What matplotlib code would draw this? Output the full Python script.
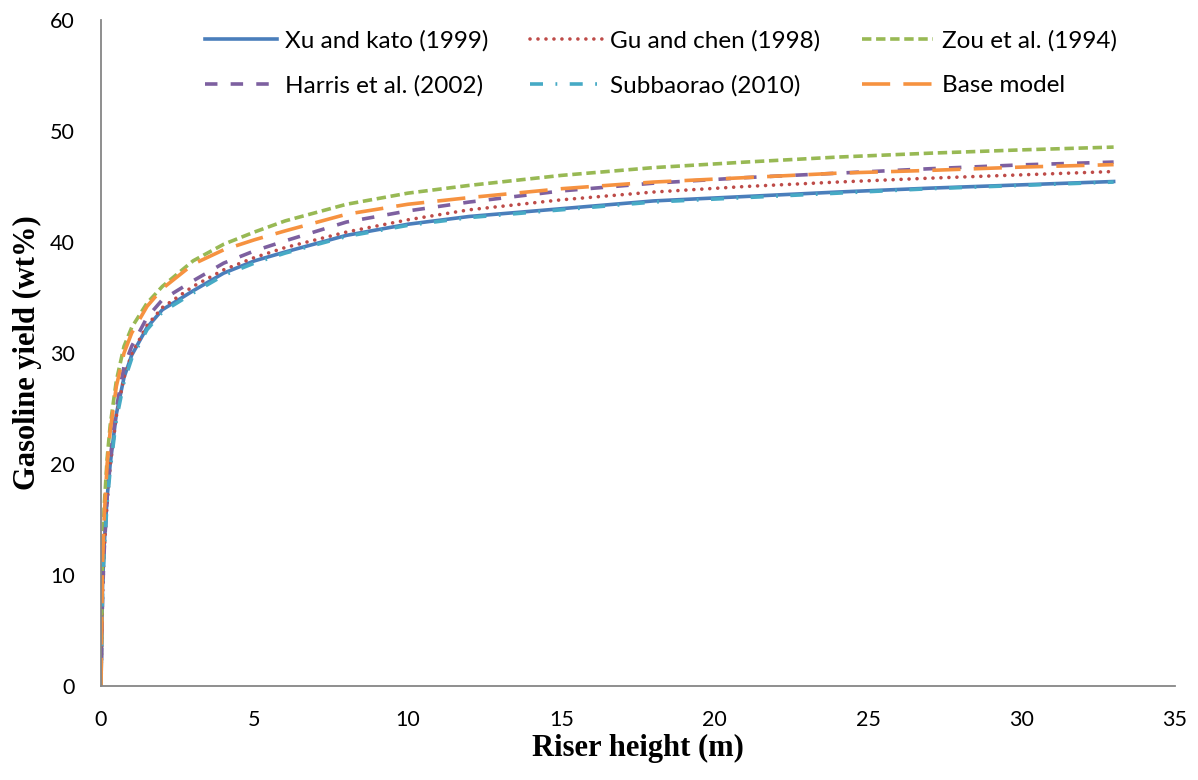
import numpy as np
import matplotlib
matplotlib.use("Agg")
import matplotlib.pyplot as plt

# riser height (m) at which the curves were read
height = [0, 0.05, 0.1, 0.2, 0.3, 0.5, 0.75, 1, 1.5, 2, 3, 4, 5, 6, 8, 10,
          12, 15, 18, 21, 24, 27, 30, 33]

# gasoline yield (wt%) for each kinetic model
xu_kato = [0, 9, 12.5, 17, 20, 24.5, 27.8, 29.8, 32.3, 33.9, 35.6, 37.2, 38.3,
           39.1, 40.6, 41.6, 42.3, 43.0, 43.7, 44.1, 44.5, 44.85, 45.15, 45.45]
gu_chen = [0, 8, 12, 16.5, 19.8, 24.3, 27.8, 29.9, 32.5, 34.1, 36.0, 37.5, 38.6,
           39.5, 40.9, 42.0, 42.9, 43.8, 44.5, 45.0, 45.4, 45.75, 46.05, 46.35]
zou = [0, 12, 16, 20.5, 23.5, 27.5, 30.6, 32.3, 34.5, 36.0, 38.3, 39.8, 40.9,
       41.9, 43.4, 44.4, 45.1, 46.0, 46.7, 47.2, 47.65, 48.0, 48.3, 48.55]
harris = [0, 8, 12, 17, 20.5, 25, 28.8, 30.6, 33.2, 34.8, 36.5, 38.1, 39.2,
          40.1, 41.8, 42.8, 43.6, 44.6, 45.3, 45.8, 46.2, 46.6, 46.95, 47.2]
subbaorao = [0, 8.5, 12, 16.5, 19.5, 24.0, 27.4, 29.5, 32.1, 33.7, 35.4, 37.0,
             38.1, 39.0, 40.5, 41.5, 42.2, 42.9, 43.6, 44.0, 44.4, 44.8, 45.1, 45.4]
base_model = [0, 11, 15, 20, 23, 27, 30, 31.8, 34.2, 35.8, 38.0, 39.3, 40.2,
              41.0, 42.5, 43.4, 44.0, 44.8, 45.4, 45.8, 46.2, 46.45, 46.75, 46.97]

fig = plt.figure(figsize=(11.98, 7.8), dpi=100)
ax = fig.add_axes([101 / 1198, 1 - 686 / 780, 1074 / 1198, 666 / 780])

lw = 2.6
l_xu, = ax.plot(height, xu_kato, color="#4A7EBB", lw=lw, label="Xu and kato (1999)")
l_gu, = ax.plot(height, gu_chen, color="#BE4B48", lw=lw, dash_capstyle="round",
                linestyle=(0, (0.01, 2.2)), label="Gu and chen (1998)")
l_zou, = ax.plot(height, zou, color="#98B954", lw=lw, linestyle=(0, (2.6, 1.3)),
                 label="Zou et al. (1994)")
l_har, = ax.plot(height, harris, color="#7D60A0", lw=lw, linestyle=(0, (3.45, 3.65)),
                 label="Harris et al. (2002)")
l_sub, = ax.plot(height, subbaorao, color="#46AAC5", lw=lw,
                 linestyle=(0, (3.6, 3.45, 0.5, 3.45)), label="Subbaorao (2010)")
l_base, = ax.plot(height, base_model, color="#F69240", lw=lw,
                  linestyle=(0, (7.8, 3.65)), label="Base model")

ax.set_xlim(0, 35)
ax.set_ylim(0, 60)
ax.set_xticks(np.arange(0, 36, 5))
ax.set_yticks(np.arange(0, 61, 10))
for s in ["top", "right"]:
    ax.spines[s].set_visible(False)
for s in ["left", "bottom"]:
    ax.spines[s].set_color("#868686")
    ax.spines[s].set_linewidth(1.3)
ax.tick_params(length=0, labelsize=15.5)
ax.tick_params(axis="x", pad=17)
ax.tick_params(axis="y", pad=19)
for t in ax.get_xticklabels() + ax.get_yticklabels():
    t.set_fontfamily("Lato")

ax.set_xlabel("Riser height (m)", fontfamily="Liberation Serif", fontweight="bold",
              fontsize=22, va="center")
ax.xaxis.set_label_coords(0.5, (686 - 748) / 666)
ax.set_ylabel("Gasoline yield (wt%)", fontfamily="Liberation Serif", fontweight="bold",
              fontsize=22, va="center")
ax.yaxis.set_label_coords((27 - 101) / 1074, 0.5)

# column-major order so rows read Xu / Gu / Zou and Harris / Subbaorao / Base
handles = [l_xu, l_har, l_gu, l_sub, l_zou, l_base]
leg = fig.legend(handles=handles, labels=[h.get_label() for h in handles],
                 ncol=3, loc="upper left", bbox_to_anchor=(193 / 1198, 1 - 18 / 780),
                 frameon=False, borderpad=0, handlelength=2.95, handletextpad=0.35,
                 columnspacing=1.7, labelspacing=0.97,
                 prop={"family": "Lato", "size": 17.5})

fig.savefig("out.png", dpi=100)
